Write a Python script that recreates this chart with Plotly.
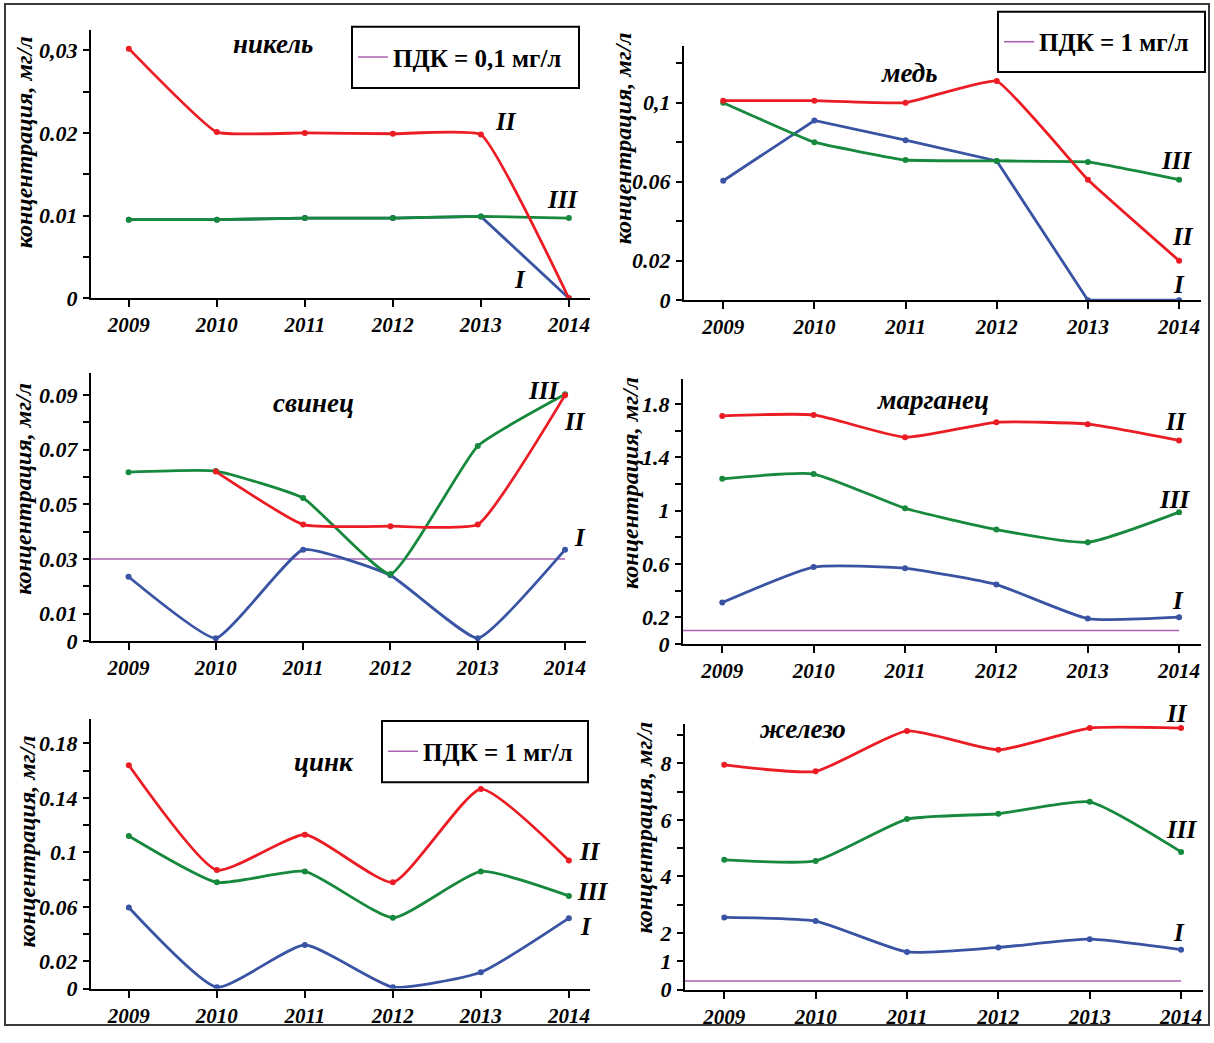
import plotly.graph_objects as go

W, H = 1214, 1043
FONT = "Liberation Serif"

years = [2009, 2010, 2011, 2012, 2013, 2014]
year_labels = ["2009", "2010", "2011", "2012", "2013", "2014"]

# никель (nickel), mg/l
ni_I = [0.0095, 0.0095, 0.0097, 0.0097, 0.0099, 0.0]
ni_II = [0.0302, 0.0201, 0.0200, 0.0199, 0.0198, 0.0]
ni_III = [0.0095, 0.0095, 0.0097, 0.0097, 0.0099, 0.0097]
ni_ticks = [0, 0.005, 0.01, 0.015, 0.02, 0.025, 0.03]
ni_ticktext = ["0", "", "0.01", "", "0.02", "", "0,03"]
pdk_ni = 0.1

# медь (copper)
cu_I = [0.0605, 0.091, 0.081, 0.0705, 0.0, 0.0]
cu_II = [0.101, 0.101, 0.100, 0.111, 0.061, 0.020]
cu_III = [0.100, 0.080, 0.071, 0.0705, 0.070, 0.061]
cu_ticks = [0, 0.02, 0.04, 0.06, 0.08, 0.1, 0.12]
cu_ticktext = ["0", "0.02", "", "0.06", "", "0,1", ""]
pdk_cu = 1.0

# свинец (lead)
pb_I = [0.0235, 0.001, 0.0334, 0.024, 0.001, 0.0334]
pb_II = [None, 0.062, 0.0426, 0.042, 0.0426, 0.090]
pb_III = [0.0618, 0.0622, 0.0523, 0.0245, 0.0714, 0.0903]
pb_ticks = [0, 0.01, 0.02, 0.03, 0.04, 0.05, 0.06, 0.07, 0.08, 0.09]
pb_ticktext = ["0", "0.01", "", "0.03", "", "0.05", "", "0.07", "", "0.09"]
pdk_pb = 0.03

# марганец (manganese)
mn_I = [0.31, 0.576, 0.567, 0.445, 0.19, 0.20]
mn_II = [1.71, 1.717, 1.55, 1.662, 1.648, 1.526]
mn_III = [1.238, 1.274, 1.017, 0.857, 0.762, 0.988]
mn_ticks = [0, 0.2, 0.4, 0.6, 0.8, 1.0, 1.2, 1.4, 1.6, 1.8]
mn_ticktext = ["0", "0.2", "", "0.6", "", "1", "", "1.4", "", "1.8"]
pdk_mn = 0.1

# цинк (zinc)
zn_I = [0.0595, 0.001, 0.032, 0.001, 0.012, 0.0517]
zn_II = [0.164, 0.087, 0.113, 0.078, 0.1465, 0.094]
zn_III = [0.112, 0.078, 0.086, 0.052, 0.086, 0.068]
zn_ticks = [0, 0.02, 0.04, 0.06, 0.08, 0.1, 0.12, 0.14, 0.16, 0.18]
zn_ticktext = ["0", "0.02", "", "0.06", "", "0.1", "", "0.14", "", "0.18"]
pdk_zn = 1.0

# железо (iron)
fe_I = [2.55, 2.42, 1.33, 1.49, 1.78, 1.41]
fe_II = [7.95, 7.72, 9.15, 8.48, 9.25, 9.25]
fe_III = [4.59, 4.55, 6.03, 6.22, 6.64, 4.87]
fe_ticks = [0, 1, 2, 3, 4, 5, 6, 7, 8, 9]
fe_ticktext = ["0", "1", "2", "", "4", "", "6", "", "8", ""]
pdk_fe = 0.3

RED = "#ec1c24"
GREEN = "#16893c"
BLUE = "#3a54a4"
PURPLE = "#a862b0"

XMIN, XMAX = 2008.57, 2014.24


def fx(p):
    return p / W


def fy(p):
    return 1 - p / H


panels = [
    dict(title="никель", I=ni_I, II=ni_II, III=ni_III, pdk=pdk_ni,
         ticks=ni_ticks, ticktext=ni_ticktext, smooth=0.35, blue_shape="linear",
         dx=(91, 590), dy=(30, 302), yr=(0, 0.0325),
         tpos=(273, 45), ylab=(24, 144),
         nums={"II": (506, 123), "III": (562, 202), "I": (520, 283)},
         legend="legend", lbox=(352, 27, 579, 89), pdk_text="ПДК = 0,1 мг/л"),
    dict(title="медь", I=cu_I, II=cu_II, III=cu_III, pdk=pdk_cu,
         ticks=cu_ticks, ticktext=cu_ticktext, smooth=0.3, blue_shape="linear",
         dx=(684, 1201), dy=(47, 304), yr=(0, 0.1285),
         tpos=(910, 74), ylab=(623, 140),
         nums={"III": (1176, 163), "II": (1183, 239), "I": (1179, 288)},
         legend="legend2", lbox=(998, 12, 1205, 73), pdk_text="ПДК = 1 мг/л"),
    dict(title="свинец", I=pb_I, II=pb_II, III=pb_III, pdk=pdk_pb,
         ticks=pb_ticks, ticktext=pb_ticktext, smooth=0.4, blue_shape="spline",
         dx=(91, 586), dy=(378, 649), yr=(0, 0.098),
         tpos=(313, 408), ylab=(23, 495),
         nums={"III": (543, 395), "II": (575, 427), "I": (580, 544)},
         legend=None),
    dict(title="марганец", I=mn_I, II=mn_II, III=mn_III, pdk=pdk_mn,
         ticks=mn_ticks, ticktext=mn_ticktext, smooth=0.5, blue_shape="spline",
         dx=(683, 1201), dy=(384, 652), yr=(0, 1.985),
         tpos=(933, 405), ylab=(630, 489),
         nums={"II": (1176, 427), "III": (1174, 506), "I": (1178, 608)},
         legend=None),
    dict(title="цинк", I=zn_I, II=zn_II, III=zn_III, pdk=pdk_zn,
         ticks=zn_ticks, ticktext=zn_ticktext, smooth=0.5, blue_shape="spline",
         dx=(91, 590), dy=(728, 1001), yr=(0, 0.198),
         tpos=(324, 772), ylab=(27, 852),
         nums={"II": (590, 862), "III": (592, 903), "I": (586, 938)},
         legend="legend3", lbox=(382, 730, 588, 792), pdk_text="ПДК = 1 мг/л"),
    dict(title="железо", I=fe_I, II=fe_II, III=fe_III, pdk=pdk_fe,
         ticks=fe_ticks, ticktext=fe_ticktext, smooth=0.5, blue_shape="spline",
         dx=(685, 1203), dy=(733, 1002), yr=(0, 9.4),
         tpos=(802, 738), ylab=(644, 838),
         nums={"II": (1177, 723), "III": (1181, 840), "I": (1179, 944)},
         legend=None),
]

fig = go.Figure()
annotations = []
shapes = []
layout = {}

tickfont = dict(family=FONT, size=22, color="black", weight="bold", style="italic")

for i, p in enumerate(panels, start=1):
    xa = "x" if i == 1 else f"x{i}"
    ya = "y" if i == 1 else f"y{i}"
    xkey = "xaxis" if i == 1 else f"xaxis{i}"
    ykey = "yaxis" if i == 1 else f"yaxis{i}"
    layout[xkey] = dict(
        domain=[fx(p["dx"][0]), fx(p["dx"][1])], anchor=ya, range=[XMIN, XMAX],
        tickmode="array", tickvals=years, ticktext=year_labels,
        ticks="outside", ticklen=7, tickwidth=1.5, tickcolor="black",
        showline=True, linecolor="black", linewidth=2, showgrid=False, zeroline=False,
        tickfont=dict(family=FONT, size=21, color="black", weight="bold", style="italic"),
    )
    layout[ykey] = dict(
        domain=[fy(p["dy"][1]), fy(p["dy"][0])], anchor=xa, range=list(p["yr"]),
        tickmode="array", tickvals=p["ticks"], ticktext=p["ticktext"],
        ticks="outside", ticklen=6, tickwidth=1.5, tickcolor="black",
        showline=True, linecolor="black", linewidth=2, showgrid=False, zeroline=False,
        tickfont=tickfont, ticklabelstandoff=1,
    )

    # PDK line
    pdk_kw = dict(x=[XMIN, years[-1]], y=[p["pdk"], p["pdk"]], mode="lines",
                  line=dict(color=PURPLE, width=1.6), xaxis=xa, yaxis=ya,
                  hoverinfo="skip")
    if p["legend"]:
        fig.add_trace(go.Scatter(**pdk_kw, name=p["pdk_text"], showlegend=True,
                                 legend=p["legend"]))
    else:
        fig.add_trace(go.Scatter(**pdk_kw, name="ПДК", showlegend=False))

    for key, col in (("I", BLUE), ("III", GREEN), ("II", RED)):
        shape = p["blue_shape"] if key == "I" else "spline"
        line = dict(color=col, width=2.8, shape=shape)
        if shape == "spline":
            line["smoothing"] = p["smooth"]
        fig.add_trace(go.Scatter(
            x=years, y=p[key], mode="lines+markers", name=key, showlegend=False,
            line=line, marker=dict(color=col, size=6), xaxis=xa, yaxis=ya,
            connectgaps=False,
        ))

    annotations.append(dict(
        x=fx(p["tpos"][0]), y=fy(p["tpos"][1]), xref="paper", yref="paper",
        text=p["title"], showarrow=False, xanchor="center", yanchor="middle",
        font=dict(family=FONT, size=27, color="black", weight="bold", style="italic")))
    annotations.append(dict(
        x=fx(p["ylab"][0]), y=fy(p["ylab"][1]), xref="paper", yref="paper",
        text="концентрация, мг/л", textangle=-90, showarrow=False,
        xanchor="center", yanchor="middle",
        font=dict(family=FONT, size=24, color="black", weight="bold", style="italic")))
    for lab, (nx, ny) in p["nums"].items():
        annotations.append(dict(
            x=fx(nx), y=fy(ny), xref="paper", yref="paper", text=lab, showarrow=False,
            xanchor="center", yanchor="middle",
            font=dict(family=FONT, size=25, color="black", weight="bold", style="italic")))

    if p["legend"]:
        l, t, r, b = p["lbox"]
        shapes.append(dict(type="rect", xref="paper", yref="paper",
                           x0=fx(l), x1=fx(r), y0=fy(b), y1=fy(t),
                           line=dict(color="black", width=2), fillcolor="white",
                           layer="below"))
        layout[p["legend"]] = dict(
            x=fx(l + 1), y=fy((t + b) / 2), xanchor="left", yanchor="middle",
            bgcolor="rgba(0,0,0,0)", borderwidth=0, itemwidth=30,
            font=dict(family=FONT, size=25, color="black", weight="bold"),
        )

# outer frame
shapes.append(dict(type="rect", xref="paper", yref="paper",
                   x0=fx(5), x1=fx(1209), y0=fy(1038), y1=fy(4),
                   line=dict(color="#3a3a3a", width=2)))

fig.update_layout(
    width=W, height=H, margin=dict(l=0, r=0, t=0, b=0),
    paper_bgcolor="white", plot_bgcolor="rgba(0,0,0,0)",
    annotations=annotations, shapes=shapes, **layout,
)

fig.write_html("out.html", config={"displayModeBar": False},
               post_script="document.body.style.margin='0px';document.body.style.overflow='hidden';")
